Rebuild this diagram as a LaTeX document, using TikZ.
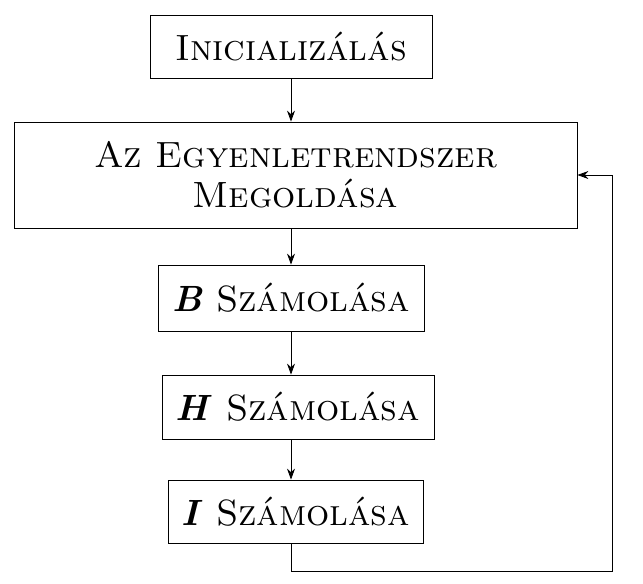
\documentclass[tikz,border=0pt]{standalone}
\usetikzlibrary{arrows.meta}
\begin{document}
\begin{tikzpicture}[x=1pt,y=-1pt]
  \tikzstyle{step box}=[draw, thick, fill=white, inner sep=0pt, font=\fontsize{36.5}{40}\selectfont\scshape, align=center]
  \tikzstyle{arrow}=[thick, -{Stealth[length=11pt,width=8pt]}]
  \useasboundingbox (0,0) rectangle (643,584);
  \node[step box, minimum width=282, minimum height=63] (init) at (291,46.5) {Inicializálás};
  \node[step box, minimum width=563, minimum height=106] (solve) at (295.5,175) {Az Egyenletrendszer\\Megoldása};
  \node[step box, minimum width=266, minimum height=66] (calcB) at (291,298) {\textbf{\textit{B}} Számolása};
  \node[step box, minimum width=272, minimum height=64] (calcH) at (298,407) {\textbf{\textit{H}} Számolása};
  \node[step box, minimum width=255, minimum height=63] (calcI) at (295.5,511.5) {\textbf{\textit{I}} Számolása};
  \coordinate (loopA) at (291,571);
  \coordinate (loopB) at (612,571);

  \draw[arrow] (init.south) -- (init.south |- solve.north);
  \draw[arrow] (calcB.north |- solve.south) -- (calcB.north);
  \draw[arrow] (calcB.south) -- (calcB.south |- calcH.north);
  \draw[arrow] (calcB.south |- calcH.south) -- (calcB.south |- calcI.north);
  \draw[arrow] (calcI.south -| loopA) -- (loopA) -- (loopB) |- (solve.east);
\end{tikzpicture}
\end{document}
